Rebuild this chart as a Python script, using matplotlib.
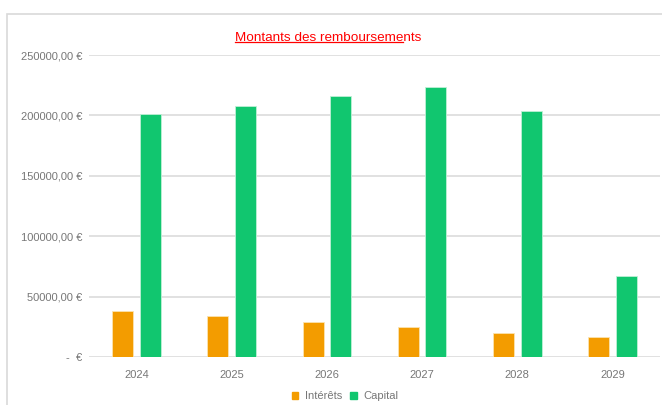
import matplotlib
matplotlib.use("Agg")
import matplotlib.pyplot as plt
import matplotlib.patches as mpatches
from matplotlib.lines import Line2D
import numpy as np

plt.rcParams["font.family"] = ["Liberation Sans", "DejaVu Sans"]

# données
annees = ["2024", "2025", "2026", "2027", "2028", "2029"]
interets = [38100, 34000, 29000, 24800, 19900, 16600]
capital = [201200, 207800, 216100, 223600, 203700, 67100]
yticks = [0, 50000, 100000, 150000, 200000, 250000]
ylabels = ["-  €", "50000,00 €", "100000,00 €", "150000,00 €", "200000,00 €", "250000,00 €"]

orange = "#f39c00"
vert = "#11c66f"
gris = "#777777"

fig = plt.figure(figsize=(6.62, 4.05), dpi=100)

# cadre extérieur
cadre = mpatches.Rectangle((7 / 662, -0.05), 1.0, 1 - 14 / 405 + 0.05,
                           transform=fig.transFigure, fill=False,
                           edgecolor="#d9d9d9", lw=1.2)
fig.patches.append(cadre)

ax = fig.add_axes([89 / 662, 1 - 357 / 405, 571 / 662, (357 - 55) / 405])

x = np.arange(len(annees))
w = 0.22
ax.bar(x - 0.145, interets, width=w, color=orange, edgecolor="#fbe3b0", lw=0.6, zorder=3)
ax.bar(x + 0.145, capital, width=w, color=vert, edgecolor="#bff0d6", lw=0.6, zorder=3)

ax.set_xlim(-0.5, len(annees) - 0.5)
ax.set_ylim(0, 250000)
ax.set_yticks(yticks)
ax.set_yticklabels(ylabels)
ax.set_xticks(x)
ax.set_xticklabels(annees)
ax.tick_params(axis="both", length=0, labelsize=8, labelcolor=gris)
ax.tick_params(axis="y", pad=5)
ax.tick_params(axis="x", pad=9)
ax.grid(axis="y", color="#dedede", lw=1.3, zorder=0)
for s in ax.spines.values():
    s.set_visible(False)

# titre souligné
titre = fig.text(328 / 662, 1 - 41 / 405, "Montants des remboursements",
                 ha="center", va="baseline", color="#ff0000", fontsize=9.7)
fig.canvas.draw()
bb = titre.get_window_extent().transformed(fig.transFigure.inverted())
yl = 1 - 41.5 / 405
fig.add_artist(Line2D([bb.x0, bb.x0 + 0.9 * bb.width], [yl, yl],
                      transform=fig.transFigure, color="#ff0000", lw=0.9))

# légende
handles = [mpatches.Patch(color=orange, label="Intérêts"),
           mpatches.Patch(color=vert, label="Capital")]
fig.legend(handles=handles, loc="center", bbox_to_anchor=(345 / 662, 1 - 396 / 405),
           ncol=2, frameon=False, fontsize=8, labelcolor=gris,
           handlelength=0.6, handleheight=0.6, handletextpad=0.6, columnspacing=0.7)

fig.savefig("out.png", dpi=100)
